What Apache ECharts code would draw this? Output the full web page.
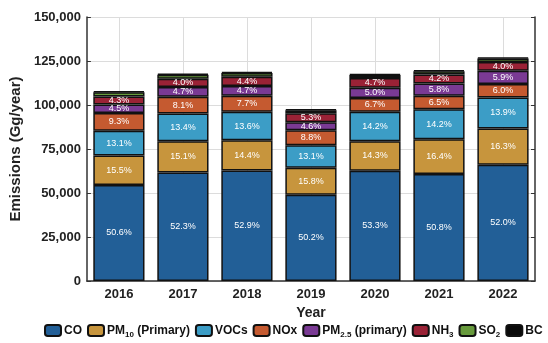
<!DOCTYPE html>
<html>
<head>
<meta charset="utf-8">
<script src="https://cdn.jsdelivr.net/npm/echarts@6/dist/echarts.min.js"></script>
<style>
  html, body { margin: 0; padding: 0; background: #fff; overflow: hidden; }
  #chart { width: 548px; height: 343px; }
</style>
</head>
<body>
<div id="chart"></div>
<script>
// Annual emissions by species, Gg/year, with each species' share of the year total (%)
const years = ['2016', '2017', '2018', '2019', '2020', '2021', '2022'];
const totals = [107800, 117800, 118800, 97500, 117500, 119800, 126900];

const shareCO   = [50.6, 52.3, 52.9, 50.2, 53.3, 50.8, 52.0];
const sharePM10 = [15.5, 15.1, 14.4, 15.8, 14.3, 16.4, 16.3];
const shareVOCs = [13.1, 13.4, 13.6, 13.1, 14.2, 14.2, 13.9];
const shareNOx  = [9.3, 8.1, 7.7, 8.8, 6.7, 6.5, 6.0];
const sharePM25 = [4.5, 4.7, 4.7, 4.6, 5.0, 5.8, 5.9];
const shareNH3  = [4.3, 4.0, 4.4, 5.3, 4.7, 4.2, 4.0];
const shareSO2  = [2.2, 1.9, 1.8, 1.7, 1.4, 1.6, 1.5];
const shareBC   = [0.5, 0.5, 0.5, 0.5, 0.4, 0.5, 0.4];

const yTicks = { min: 0, max: 150000, interval: 25000 };

const species = [
  { name: 'CO',   share: shareCO,   color: '#225f97', label: true },
  { name: 'PM10', share: sharePM10, color: '#c7953d', label: true },
  { name: 'VOCs', share: shareVOCs, color: '#3c9dc6', label: true },
  { name: 'NOx',  share: shareNOx,  color: '#c55a30', label: true },
  { name: 'PM25', share: sharePM25, color: '#7a3a94', label: true },
  { name: 'NH3',  share: shareNH3,  color: '#9a2236', label: true },
  { name: 'SO2',  share: shareSO2,  color: '#679a3c', label: false },
  { name: 'BC',   share: shareBC,   color: '#0a0a0a', label: false }
];

const legendText = {
  CO: 'CO',
  PM10: 'PM{sub|10} (Primary)',
  VOCs: 'VOCs',
  NOx: 'NOx',
  PM25: 'PM{sub|2.5} (primary)',
  NH3: 'NH{sub|3}',
  SO2: 'SO{sub|2}',
  BC: 'BC'
};

const series = species.map(sp => ({
  name: sp.name,
  type: 'bar',
  stack: 'total',
  barCategoryGap: '20%',
  data: years.map((y, i) => totals[i] * sp.share[i] / 100),
  itemStyle: { color: sp.color, borderColor: '#111', borderWidth: 1.5 },
  label: {
    show: sp.label,
    position: 'inside',
    color: '#fff',
    fontFamily: 'Arial, Liberation Sans, sans-serif',
    fontSize: 9,
    formatter: p => sp.share[p.dataIndex].toFixed(1) + '%'
  },
  emphasis: { disabled: true }
}));

const chart = echarts.init(document.getElementById('chart'), null, { renderer: 'canvas' });
chart.setOption({
  animation: false,
  textStyle: { fontFamily: 'Arial, Liberation Sans, sans-serif' },
  grid: { left: 85, right: 13, top: 17, bottom: 62 },
  legend: {
    left: 44,
    top: 324,
    width: 800,
    padding: 0,
    itemWidth: 16,
    itemHeight: 11,
    itemGap: 5,
    selectedMode: false,
    formatter: n => legendText[n],
    textStyle: {
      color: '#111',
      fontSize: 12,
      fontWeight: 'bold',
      padding: [0, 0, 0, -2],
      rich: {
        sub: { fontSize: 8, fontWeight: 'bold', color: '#111', verticalAlign: 'bottom', padding: [8, 0, 0, 0] }
      }
    }
  },
  xAxis: {
    type: 'category',
    data: years,
    name: 'Year',
    nameLocation: 'middle',
    nameGap: 24,
    nameTextStyle: { fontSize: 14, fontWeight: 'bold', color: '#222' },
    axisLine: { lineStyle: { color: '#333', width: 1.5 } },
    axisTick: { show: true, alignWithLabel: true, inside: true, length: 4, lineStyle: { color: '#333' } },
    axisLabel: { fontSize: 13, fontWeight: 'bold', color: '#222', margin: 7 },
    splitLine: { show: true, alignWithLabel: true, lineStyle: { color: '#dcdcdc', width: 1 } }
  },
  yAxis: [{
    type: 'value',
    min: yTicks.min, max: yTicks.max, interval: yTicks.interval,
    name: 'Emissions (Gg/year)',
    nameLocation: 'middle',
    nameGap: 51,
    nameTextStyle: { fontSize: 15, fontWeight: 'bold', color: '#222' },
    axisLine: { show: true, lineStyle: { color: '#333', width: 1.5 } },
    axisTick: { show: true, inside: true, length: 4, lineStyle: { color: '#333' } },
    axisLabel: {
      fontSize: 13, fontWeight: 'bold', color: '#222', margin: 6,
      formatter: v => v.toLocaleString('en-US')
    },
    splitLine: { show: true, lineStyle: { color: '#dcdcdc', width: 1 } }
  }, {
    type: 'value',
    position: 'right',
    min: yTicks.min, max: yTicks.max, interval: yTicks.interval,
    axisLine: { show: true, lineStyle: { color: '#333', width: 1.5 } },
    axisTick: { show: true, inside: true, length: 4, lineStyle: { color: '#333' } },
    axisLabel: { show: false },
    splitLine: { show: false }
  }],
  series: series
});
</script>
</body>
</html>
